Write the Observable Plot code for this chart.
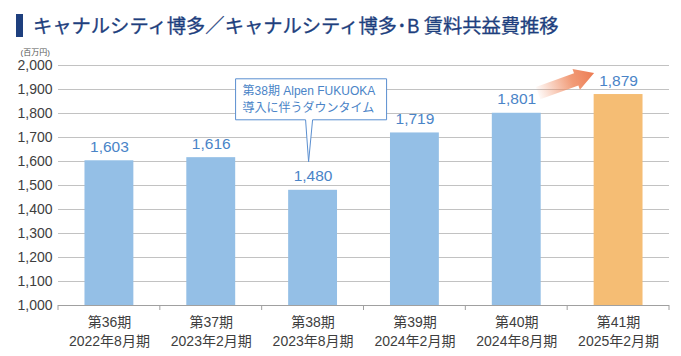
<!DOCTYPE html>
<html>
<head>
<meta charset="utf-8">
<script src="https://cdn.jsdelivr.net/npm/d3@7"></script>
<script src="https://cdn.jsdelivr.net/npm/@observablehq/plot@0.6"></script>
<style>
  html, body { margin: 0; padding: 0; background: #fff; }
  #wrap { width: 681px; height: 356px; position: relative; overflow: hidden; }
  #title { position: relative; height: 44px; }
  #title .bar { position: absolute; left: 16px; top: 14px; width: 7px; height: 23px; background: #1e3f7e; }
  #title .txt { position: absolute; left: 33px; top: 10px; font-family: "Noto Sans CJK JP", sans-serif; font-size: 19.3px; line-height: 30px; color: #1e3f7e; font-weight: 400; white-space: nowrap; -webkit-text-stroke: 0.3px #1e3f7e; }
  #chart svg { display: block; }
</style>
</head>
<body>
<div id="wrap">
  <div id="title"><div class="bar"></div><div class="txt">キャナルシティ博多／キャナルシティ博多･B 賃料共益費推移</div></div>
  <div id="chart"></div>
</div>
<script>
const categories = [
  "第36期\n2022年8月期",
  "第37期\n2023年2月期",
  "第38期\n2023年8月期",
  "第39期\n2024年2月期",
  "第40期\n2024年8月期",
  "第41期\n2025年2月期"
];
const values = [1603, 1616, 1480, 1719, 1801, 1879];
const yTicks = [1000, 1100, 1200, 1300, 1400, 1500, 1600, 1700, 1800, 1900, 2000];
const unitLabel = "(百万円)";
const calloutLines = ["第38期 Alpen FUKUOKA", "導入に伴うダウンタイム"];
const calloutCategory = categories[2];

const baseline = yTicks[0];
const lastIndex = categories.length - 1;
const data = categories.map((c, i) => ({period: c, value: values[i], idx: i}));
const fmt = d3.format(",");
const FONT = "'Liberation Sans', 'Noto Sans CJK JP', sans-serif";

const plot = Plot.plot({
  width: 681,
  height: 312,
  marginLeft: 58,
  marginRight: 12,
  marginTop: 21,
  marginBottom: 51,
  style: {fontFamily: FONT, fontSize: "14px", color: "#444", background: "white", overflow: "visible"},
  x: {domain: categories, paddingInner: 0.52, paddingOuter: 0.26, round: false, label: null},
  y: {domain: [yTicks[0], yTicks[yTicks.length - 1]], label: null},
  marks: [
    Plot.gridY(yTicks, {stroke: "#c2c2c2", strokeOpacity: 1}),
    Plot.axisY(yTicks, {tickSize: 0, tickPadding: 6, tickFormat: d => fmt(d), fontSize: 14, fill: "#3e3e3e", label: null}),
    Plot.barY(data, {filter: d => d.idx !== lastIndex, x: "period", y1: baseline, y2: "value", fill: "#94bfe6", inset: 0}),
    Plot.barY(data, {filter: d => d.idx === lastIndex, x: "period", y1: baseline, y2: "value", fill: "#f5bd74", inset: 0}),
    Plot.ruleY([baseline], {stroke: "#a0a0a0"}),
    Plot.axisX({tickSize: 0, tickPadding: 9, lineHeight: 1.3, fontSize: 14, fill: "#3e3e3e", label: null}),
    Plot.text(data, {x: "period", y: "value", text: d => fmt(d.value), dy: -14, fill: "#4a84c7", fontSize: 15.5}),
    Plot.text([unitLabel], {frameAnchor: "top-left", dx: -38, dy: -13, lineAnchor: "middle", fontSize: 8, fill: "#555", textAnchor: "start"})
  ]
});

document.getElementById("chart").appendChild(plot);

// Post-render decorations placed through the plot's scales
const xs = plot.scale("x");
const ys = plot.scale("y");
const svg = d3.select(plot);
const step = xs.step, bw = xs.bandwidth;
const y0 = ys.apply(baseline);

// band boundary ticks on the x axis
const edges = categories.map(c => xs.apply(c) - (step - bw) / 2);
edges.push(xs.apply(categories[lastIndex]) + bw + (step - bw) / 2);
svg.append("g").selectAll("line").data(edges).join("line")
  .attr("x1", d => d).attr("x2", d => d)
  .attr("y1", y0).attr("y2", y0 + 5)
  .attr("stroke", "#a0a0a0");

// callout for the 38th period
{
  const i = categories.indexOf(calloutCategory);
  const cx = xs.apply(calloutCategory) + bw / 2 - 4;
  const tip = ys.apply(values[i]) - 28;
  const left = cx - 73, right = cx + 78, top = tip - 83, bottom = tip - 42;
  const g = svg.append("g").attr("text-anchor", "start");
  g.append("path")
    .attr("d", `M${left},${top}H${right}V${bottom}H${cx + 4}L${cx},${tip}L${cx - 3},${bottom}H${left}Z`)
    .attr("fill", "white").attr("stroke", "#5b8fd0").attr("stroke-width", 1);
  calloutLines.forEach((t, k) => {
    g.append("text").attr("x", left + 7).attr("y", top + 16 + k * 17)
      .attr("text-anchor", "start")
      .attr("fill", "#4a84c7").attr("font-size", 12).attr("font-family", FONT).text(t);
  });
}

// growth arrow next to the last bar
{
  const c = categories[lastIndex];
  const cx = xs.apply(c) + bw / 2;
  const topY = ys.apply(values[lastIndex]);
  const tx = cx - 24, ty = topY - 21;
  const sx = cx - 80, sy = topY - 1;
  const dx = tx - sx, dy = ty - sy, L = Math.hypot(dx, dy);
  const ux = dx / L, uy = dy / L, nx = -uy, ny = ux;
  const headLen = 19, headW = 11, shaftW = 6.5;
  const bx = tx - ux * headLen, by = ty - uy * headLen;
  const pt = (x, y) => `${x.toFixed(1)},${y.toFixed(1)}`;
  const pts = [
    pt(sx + nx * shaftW, sy + ny * shaftW),
    pt(bx + nx * shaftW, by + ny * shaftW),
    pt(bx + nx * headW, by + ny * headW),
    pt(tx, ty),
    pt(bx - nx * headW, by - ny * headW),
    pt(bx - nx * shaftW, by - ny * shaftW),
    pt(sx - nx * shaftW, sy - ny * shaftW)
  ];
  const defs = svg.append("defs");
  const grad = defs.append("linearGradient").attr("id", "arrowGrad")
    .attr("gradientUnits", "userSpaceOnUse")
    .attr("x1", sx).attr("y1", sy).attr("x2", tx).attr("y2", ty);
  grad.append("stop").attr("offset", "0").attr("stop-color", "#ef8a60").attr("stop-opacity", 0.05);
  grad.append("stop").attr("offset", "0.6").attr("stop-color", "#ef8a60").attr("stop-opacity", 0.85);
  grad.append("stop").attr("offset", "1").attr("stop-color", "#ec7b52").attr("stop-opacity", 1);
  svg.append("polygon").attr("points", pts.join(" ")).attr("fill", "url(#arrowGrad)");
}
</script>
</body>
</html>
